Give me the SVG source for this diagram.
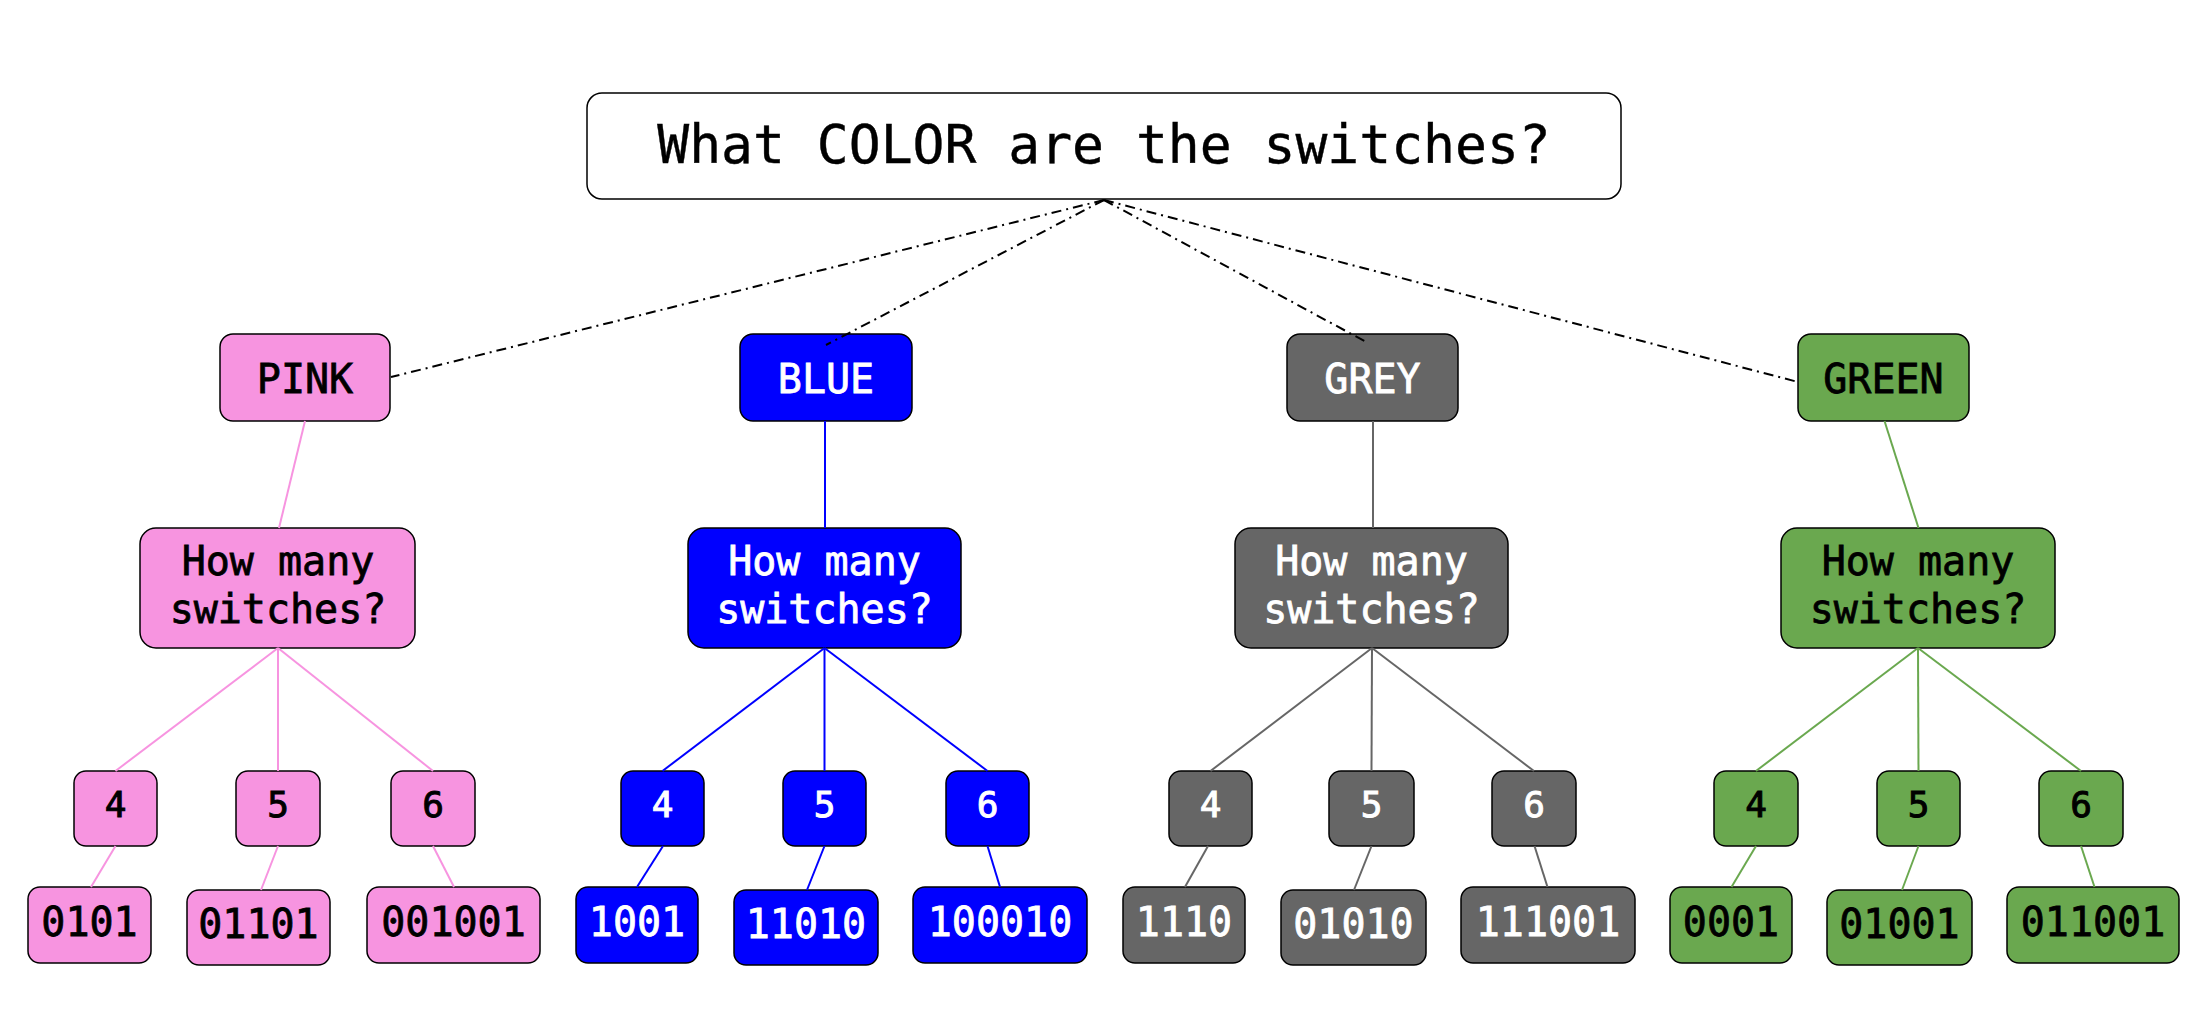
<svg xmlns="http://www.w3.org/2000/svg" width="2210" height="1036" viewBox="0 0 2210 1036">
<style>
text{font-family:"DejaVu Sans Mono","Liberation Mono",monospace;text-anchor:middle}
.b{stroke:#000;stroke-width:1.5}
.pk{fill:#f794e0}.bl{fill:#0000ff}.gy{fill:#666666}.gn{fill:#6aa84f}
.tk{fill:#000;stroke:#000}.tw{fill:#fff;stroke:#fff}
.f40{font-size:40px;stroke-width:0.8}.f33{font-size:36px;stroke-width:1}
.dd{stroke:#000;stroke-width:2;stroke-dasharray:10 5 2 5;fill:none}
.lpk{stroke:#f794e0;stroke-width:2}.lbl{stroke:#0000ff;stroke-width:2}.lgy{stroke:#666666;stroke-width:2}.lgn{stroke:#6aa84f;stroke-width:2}
</style>
<rect width="2210" height="1036" fill="#fff"/>
<g id="title"><rect x="587" y="93" width="1034" height="106" rx="15" fill="#fff" class="b"/><text x="1104" y="163" style="font-size:53px;stroke-width:0.4" class="tk">What COLOR are the switches?</text></g>

<g id="pink">
<rect x="220" y="334" width="170" height="87" rx="13" class="pk b"/><text x="305" y="393" class="f40 tk">PINK</text></g>
<g id="pink-q"><rect x="140" y="528" width="275" height="120" rx="16" class="pk b"/><text x="278" y="575" class="f40 tk">How many</text><text x="278" y="623" class="f40 tk">switches?</text></g>
<g id="pink-4"><rect x="74" y="771" width="83" height="75" rx="12" class="pk b"/><text x="115.5" y="817" class="f33 tk">4</text></g>
<g id="pink-5"><rect x="236" y="771" width="84" height="75" rx="12" class="pk b"/><text x="278" y="817" class="f33 tk">5</text></g>
<g id="pink-6"><rect x="391" y="771" width="84" height="75" rx="12" class="pk b"/><text x="433" y="817" class="f33 tk">6</text></g>
<g id="pink-0101"><rect x="28" y="887" width="123" height="76" rx="12" class="pk b"/><text x="89.5" y="936" class="f40 tk">0101</text></g>
<g id="pink-01101"><rect x="187" y="890" width="143" height="75" rx="12" class="pk b"/><text x="258.5" y="938" class="f40 tk">01101</text></g>
<g id="pink-001001"><rect x="367" y="887" width="173" height="76" rx="12" class="pk b"/><text x="453.5" y="936" class="f40 tk">001001</text></g>

<g id="blue"><rect x="740" y="334" width="172" height="87" rx="13" class="bl b"/><text x="826" y="393" class="f40 tw">BLUE</text></g>
<g id="blue-q"><rect x="688" y="528" width="273" height="120" rx="16" class="bl b"/><text x="824.5" y="575" class="f40 tw">How many</text><text x="824.5" y="623" class="f40 tw">switches?</text></g>
<g id="blue-4"><rect x="621" y="771" width="83" height="75" rx="12" class="bl b"/><text x="662.5" y="817" class="f33 tw">4</text></g>
<g id="blue-5"><rect x="783" y="771" width="83" height="75" rx="12" class="bl b"/><text x="824.5" y="817" class="f33 tw">5</text></g>
<g id="blue-6"><rect x="946" y="771" width="83" height="75" rx="12" class="bl b"/><text x="987.5" y="817" class="f33 tw">6</text></g>
<g id="blue-1001"><rect x="576" y="887" width="122" height="76" rx="12" class="bl b"/><text x="637" y="936" class="f40 tw">1001</text></g>
<g id="blue-11010"><rect x="734" y="890" width="144" height="75" rx="12" class="bl b"/><text x="806" y="938" class="f40 tw">11010</text></g>
<g id="blue-100010"><rect x="913" y="887" width="174" height="76" rx="12" class="bl b"/><text x="1000" y="936" class="f40 tw">100010</text></g>

<g id="grey"><rect x="1287" y="334" width="171" height="87" rx="13" class="gy b"/><text x="1372.5" y="393" class="f40 tw">GREY</text></g>
<g id="grey-q"><rect x="1235" y="528" width="273" height="120" rx="16" class="gy b"/><text x="1371.5" y="575" class="f40 tw">How many</text><text x="1371.5" y="623" class="f40 tw">switches?</text></g>
<g id="grey-4"><rect x="1169" y="771" width="83" height="75" rx="12" class="gy b"/><text x="1210.5" y="817" class="f33 tw">4</text></g>
<g id="grey-5"><rect x="1329" y="771" width="85" height="75" rx="12" class="gy b"/><text x="1371.5" y="817" class="f33 tw">5</text></g>
<g id="grey-6"><rect x="1492" y="771" width="84" height="75" rx="12" class="gy b"/><text x="1534" y="817" class="f33 tw">6</text></g>
<g id="grey-1110"><rect x="1123" y="887" width="122" height="76" rx="12" class="gy b"/><text x="1184" y="936" class="f40 tw">1110</text></g>
<g id="grey-01010"><rect x="1281" y="890" width="145" height="75" rx="12" class="gy b"/><text x="1353.5" y="938" class="f40 tw">01010</text></g>
<g id="grey-111001"><rect x="1461" y="887" width="174" height="76" rx="12" class="gy b"/><text x="1548" y="936" class="f40 tw">111001</text></g>

<g id="green"><rect x="1798" y="334" width="171" height="87" rx="13" class="gn b"/><text x="1883.5" y="393" class="f40 tk">GREEN</text></g>
<g id="green-q"><rect x="1781" y="528" width="274" height="120" rx="16" class="gn b"/><text x="1918" y="575" class="f40 tk">How many</text><text x="1918" y="623" class="f40 tk">switches?</text></g>
<g id="green-4"><rect x="1714" y="771" width="84" height="75" rx="12" class="gn b"/><text x="1756" y="817" class="f33 tk">4</text></g>
<g id="green-5"><rect x="1877" y="771" width="83" height="75" rx="12" class="gn b"/><text x="1918.5" y="817" class="f33 tk">5</text></g>
<g id="green-6"><rect x="2039" y="771" width="84" height="75" rx="12" class="gn b"/><text x="2081" y="817" class="f33 tk">6</text></g>
<g id="green-0001"><rect x="1670" y="887" width="122" height="76" rx="12" class="gn b"/><text x="1731" y="936" class="f40 tk">0001</text></g>
<g id="green-01001"><rect x="1827" y="890" width="145" height="75" rx="12" class="gn b"/><text x="1899.5" y="938" class="f40 tk">01001</text></g>
<g id="green-011001"><rect x="2007" y="887" width="172" height="76" rx="12" class="gn b"/><text x="2093" y="936" class="f40 tk">011001</text></g>

<g id="connectors">
<line x1="1104" y1="200" x2="391" y2="377" class="dd"/>
<line x1="1104" y1="200" x2="826" y2="345" class="dd"/>
<line x1="1104" y1="200" x2="1368" y2="343" class="dd"/>
<line x1="1104" y1="200" x2="1798" y2="382" class="dd"/>

<line x1="305" y1="421" x2="279" y2="528" class="lpk"/>
<line x1="278" y1="648" x2="115.5" y2="771" class="lpk"/>
<line x1="278" y1="648" x2="278" y2="771" class="lpk"/>
<line x1="278" y1="648" x2="433" y2="771" class="lpk"/>
<line x1="115.5" y1="846" x2="91" y2="887" class="lpk"/>
<line x1="278" y1="846" x2="261" y2="890" class="lpk"/>
<line x1="433" y1="846" x2="454" y2="887" class="lpk"/>

<line x1="825" y1="421" x2="825" y2="528" class="lbl"/>
<line x1="824.5" y1="648" x2="662.5" y2="771" class="lbl"/>
<line x1="824.5" y1="648" x2="824.5" y2="771" class="lbl"/>
<line x1="824.5" y1="648" x2="987.5" y2="771" class="lbl"/>
<line x1="663" y1="846" x2="637" y2="887" class="lbl"/>
<line x1="824.5" y1="846" x2="807" y2="890" class="lbl"/>
<line x1="987.5" y1="846" x2="1000" y2="887" class="lbl"/>

<line x1="1373" y1="421" x2="1373" y2="528" class="lgy"/>
<line x1="1372" y1="648" x2="1210.5" y2="771" class="lgy"/>
<line x1="1372" y1="648" x2="1371.5" y2="771" class="lgy"/>
<line x1="1372" y1="648" x2="1534" y2="771" class="lgy"/>
<line x1="1208" y1="846" x2="1185" y2="887" class="lgy"/>
<line x1="1371.5" y1="846" x2="1354" y2="890" class="lgy"/>
<line x1="1534.5" y1="846" x2="1547.5" y2="887" class="lgy"/>

<line x1="1884.5" y1="421" x2="1918.5" y2="528" class="lgn"/>
<line x1="1918" y1="648" x2="1756" y2="771" class="lgn"/>
<line x1="1918" y1="648" x2="1918.5" y2="771" class="lgn"/>
<line x1="1918" y1="648" x2="2081" y2="771" class="lgn"/>
<line x1="1756" y1="846" x2="1731.5" y2="887" class="lgn"/>
<line x1="1918.5" y1="846" x2="1902" y2="890" class="lgn"/>
<line x1="2081" y1="846" x2="2094.5" y2="887" class="lgn"/>
</g>
</svg>
